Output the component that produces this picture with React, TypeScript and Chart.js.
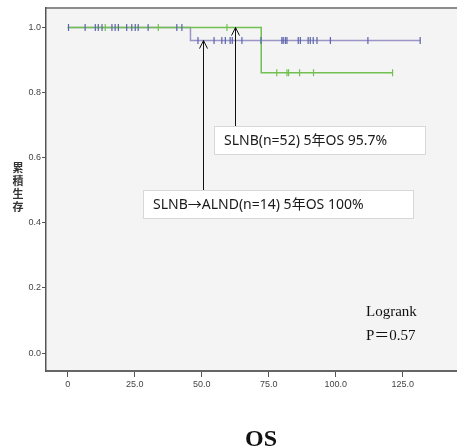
import React, { useEffect, useRef } from "react";
import { Chart, registerables } from "chart.js";

Chart.register(...registerables);

// ---- data (months, cumulative survival) ----
const xTickValues = [0, 25, 50, 75, 100, 125];
const yTickValues = [0, 0.2, 0.4, 0.6, 0.8, 1.0];

const slnbCurve = [
  { x: 0, y: 1.0 },
  { x: 45.8, y: 0.96 },
  { x: 131.5, y: 0.96 },
];
const alndCurve = [
  { x: 0, y: 1.0 },
  { x: 72.2, y: 0.861 },
  { x: 121.2, y: 0.861 },
];
const slnbCensorAt1 = [0.3, 6.5, 10.3, 11.4, 12.8, 16.5, 17.7, 18.9, 22, 23.9, 25.2, 26.3, 30, 40.7, 42.6];
const slnbCensorAt2 = [48.6, 54.6, 57.5, 58.8, 60.6, 61.4, 65, 72.1, 79.9, 80.4, 81.2, 81.8, 86, 86.8, 89.7, 90.5, 91.6, 93, 98, 112, 131.5];
const alndCensorAt1 = [14, 33.8, 59.4];
const alndCensorAt2 = [78, 81.8, 82.4, 86.5, 91.7, 121.2];

const slnbLevel2 = 0.96;
const alndLevel2 = 0.861;

const yTitle = ["累", "積", "生", "存"];
const box1Text = "SLNB(n=52) 5年OS 95.7%";
const box2Text = "SLNB→ALND(n=14) 5年OS 100%";
const arrow1X = 62.5; // points to ALND curve at 1.0
const arrow2X = 50.6; // points to SLNB curve at 0.96

const BLUE_LINE = "#9a94c8";
const BLUE_MARK = "#5a64aa";
const GREEN = "#72c052";

const decor = {
  id: "decor",
  beforeDraw(chart: any) {
    const { ctx, chartArea } = chart;
    ctx.save();
    ctx.fillStyle = "#f4f4f4";
    ctx.fillRect(chartArea.left, chartArea.top, chart.width - chartArea.left, chartArea.bottom - chartArea.top);
    ctx.strokeStyle = "#8c8c8c";
    ctx.lineWidth = 2;
    ctx.beginPath();
    ctx.moveTo(chartArea.left, chartArea.top);
    ctx.lineTo(chart.width, chartArea.top);
    ctx.stroke();
    ctx.strokeStyle = "#666";
    ctx.beginPath();
    ctx.moveTo(chartArea.right - 1, chartArea.bottom);
    ctx.lineTo(chart.width, chartArea.bottom);
    ctx.stroke();
    ctx.restore();
  },
  afterDraw(chart: any) {
    const { ctx } = chart;
    const xs = chart.scales.x;
    const ys = chart.scales.y;
    ctx.save();

    // boxes
    const sans = '14px "Noto Sans", "Noto Sans CJK JP", sans-serif';
    const drawBox = (x: number, y: number, w: number, h: number, t: string) => {
      ctx.fillStyle = "#ffffff";
      ctx.fillRect(x, y, w, h);
      ctx.strokeStyle = "#d8d8d8";
      ctx.lineWidth = 1;
      ctx.strokeRect(x + 0.5, y + 0.5, w, h);
      ctx.fillStyle = "#1a1a1a";
      ctx.font = sans;
      ctx.textAlign = "left";
      ctx.textBaseline = "middle";
      ctx.fillText(t, x + 10, y + h / 2 + 1);
    };
    drawBox(214, 126, 211, 28, box1Text);
    drawBox(143, 190, 270, 28, box2Text);

    // arrows
    const drawArrow = (xv: number, yv: number, fromY: number) => {
      const x = Math.round(xs.getPixelForValue(xv)) + 0.5;
      const tip = ys.getPixelForValue(yv);
      ctx.strokeStyle = "#111";
      ctx.lineWidth = 1;
      ctx.beginPath();
      ctx.moveTo(x, fromY);
      ctx.lineTo(x, tip);
      ctx.moveTo(x - 4, tip + 8);
      ctx.lineTo(x, tip);
      ctx.lineTo(x + 4, tip + 8);
      ctx.stroke();
    };
    drawArrow(arrow1X, 1.0, 126);
    drawArrow(arrow2X, slnbLevel2, 190);

    // y title (stacked)
    ctx.fillStyle = "#333";
    ctx.font = 'bold 11px "Noto Sans CJK JP", sans-serif';
    ctx.textAlign = "center";
    ctx.textBaseline = "middle";
    yTitle.forEach((c, i) => ctx.fillText(c, 18, 168 + i * 13));

    // logrank
    ctx.fillStyle = "#111";
    ctx.font = '15px "Liberation Serif", "Times New Roman", serif';
    ctx.textAlign = "left";
    ctx.textBaseline = "alphabetic";
    ctx.fillText("Logrank", 366, 316);
    ctx.font = '15px "Liberation Serif", "Noto Sans CJK JP", serif';
    ctx.fillText("P＝0.57", 366, 340);

    // OS title
    ctx.font = 'bold 24px "Liberation Serif", "Times New Roman", serif';
    ctx.textAlign = "center";
    ctx.fillText("OS", 261, 446);
    ctx.restore();
  },
};

export default function App() {
  const ref = useRef<HTMLCanvasElement | null>(null);
  useEffect(() => {
    if (!ref.current) return;
    const censor = (xsArr: number[], y: number, color: string) => ({
      type: "scatter" as const,
      data: xsArr.map((x) => ({ x, y })),
      pointStyle: "line",
      rotation: 90,
      pointRadius: 3.5,
      borderColor: color,
      backgroundColor: color,
      borderWidth: 1.2,
      showLine: false,
    });
    const chart = new Chart(ref.current, {
      type: "scatter",
      data: {
        datasets: [
          censor(slnbCensorAt1, 1.0, BLUE_MARK),
          censor(slnbCensorAt2, slnbLevel2, BLUE_MARK),
          censor(alndCensorAt1, 1.0, GREEN),
          censor(alndCensorAt2, alndLevel2, GREEN),
          {
            type: "line",
            data: alndCurve,
            stepped: "before",
            borderColor: GREEN,
            borderWidth: 1.5,
            pointRadius: 0,
            fill: false,
          },
          {
            type: "line",
            data: slnbCurve,
            stepped: "before",
            borderColor: BLUE_LINE,
            borderWidth: 1.5,
            pointRadius: 0,
            fill: false,
          },
        ] as any,
      },
      options: {
        animation: false,
        responsive: false,
        events: [],
        layout: { padding: { top: 8, left: 0, right: 0, bottom: 0 } },
        plugins: { legend: { display: false }, tooltip: { enabled: false }, title: { display: false } },
        scales: {
          x: {
            type: "linear",
            min: -8.1,
            max: 143.3,
            afterBuildTicks: (s: any) => {
              s.ticks = xTickValues.map((v) => ({ value: v }));
            },
            afterFit: (s: any) => {
              s.height = 76;
            },
            grid: { drawOnChartArea: false, tickLength: 6, color: "#555", lineWidth: 1 },
            border: { color: "#666", width: 2 },
            ticks: {
              padding: 2,
              color: "#444",
              maxRotation: 0,
              font: { family: '"Liberation Sans Narrow", "Liberation Sans", sans-serif', size: 9 },
              callback: (v: any) => (v === 0 ? "0" : Number(v).toFixed(1)),
            },
          },
          y: {
            type: "linear",
            min: -0.055,
            max: 1.06,
            afterBuildTicks: (s: any) => {
              s.ticks = yTickValues.map((v) => ({ value: v }));
            },
            afterFit: (s: any) => {
              s.width = 46;
            },
            grid: { drawOnChartArea: false, tickLength: 4, color: "#555", lineWidth: 1 },
            border: { color: "#555", width: 1.5 },
            ticks: {
              padding: 1,
              color: "#444",
              font: { family: '"Liberation Sans Narrow", "Liberation Sans", sans-serif', size: 9 },
              callback: (v: any) => Number(v).toFixed(1),
            },
          },
        },
      },
      plugins: [decor],
    });
    return () => chart.destroy();
  }, []);
  return (
    <div style={{ position: "fixed", left: 0, top: 0, width: 457, height: 447, background: "#fff" }}>
      <canvas ref={ref} width={457} height={447} style={{ width: 457, height: 447, display: "block" }} />
    </div>
  );
}
